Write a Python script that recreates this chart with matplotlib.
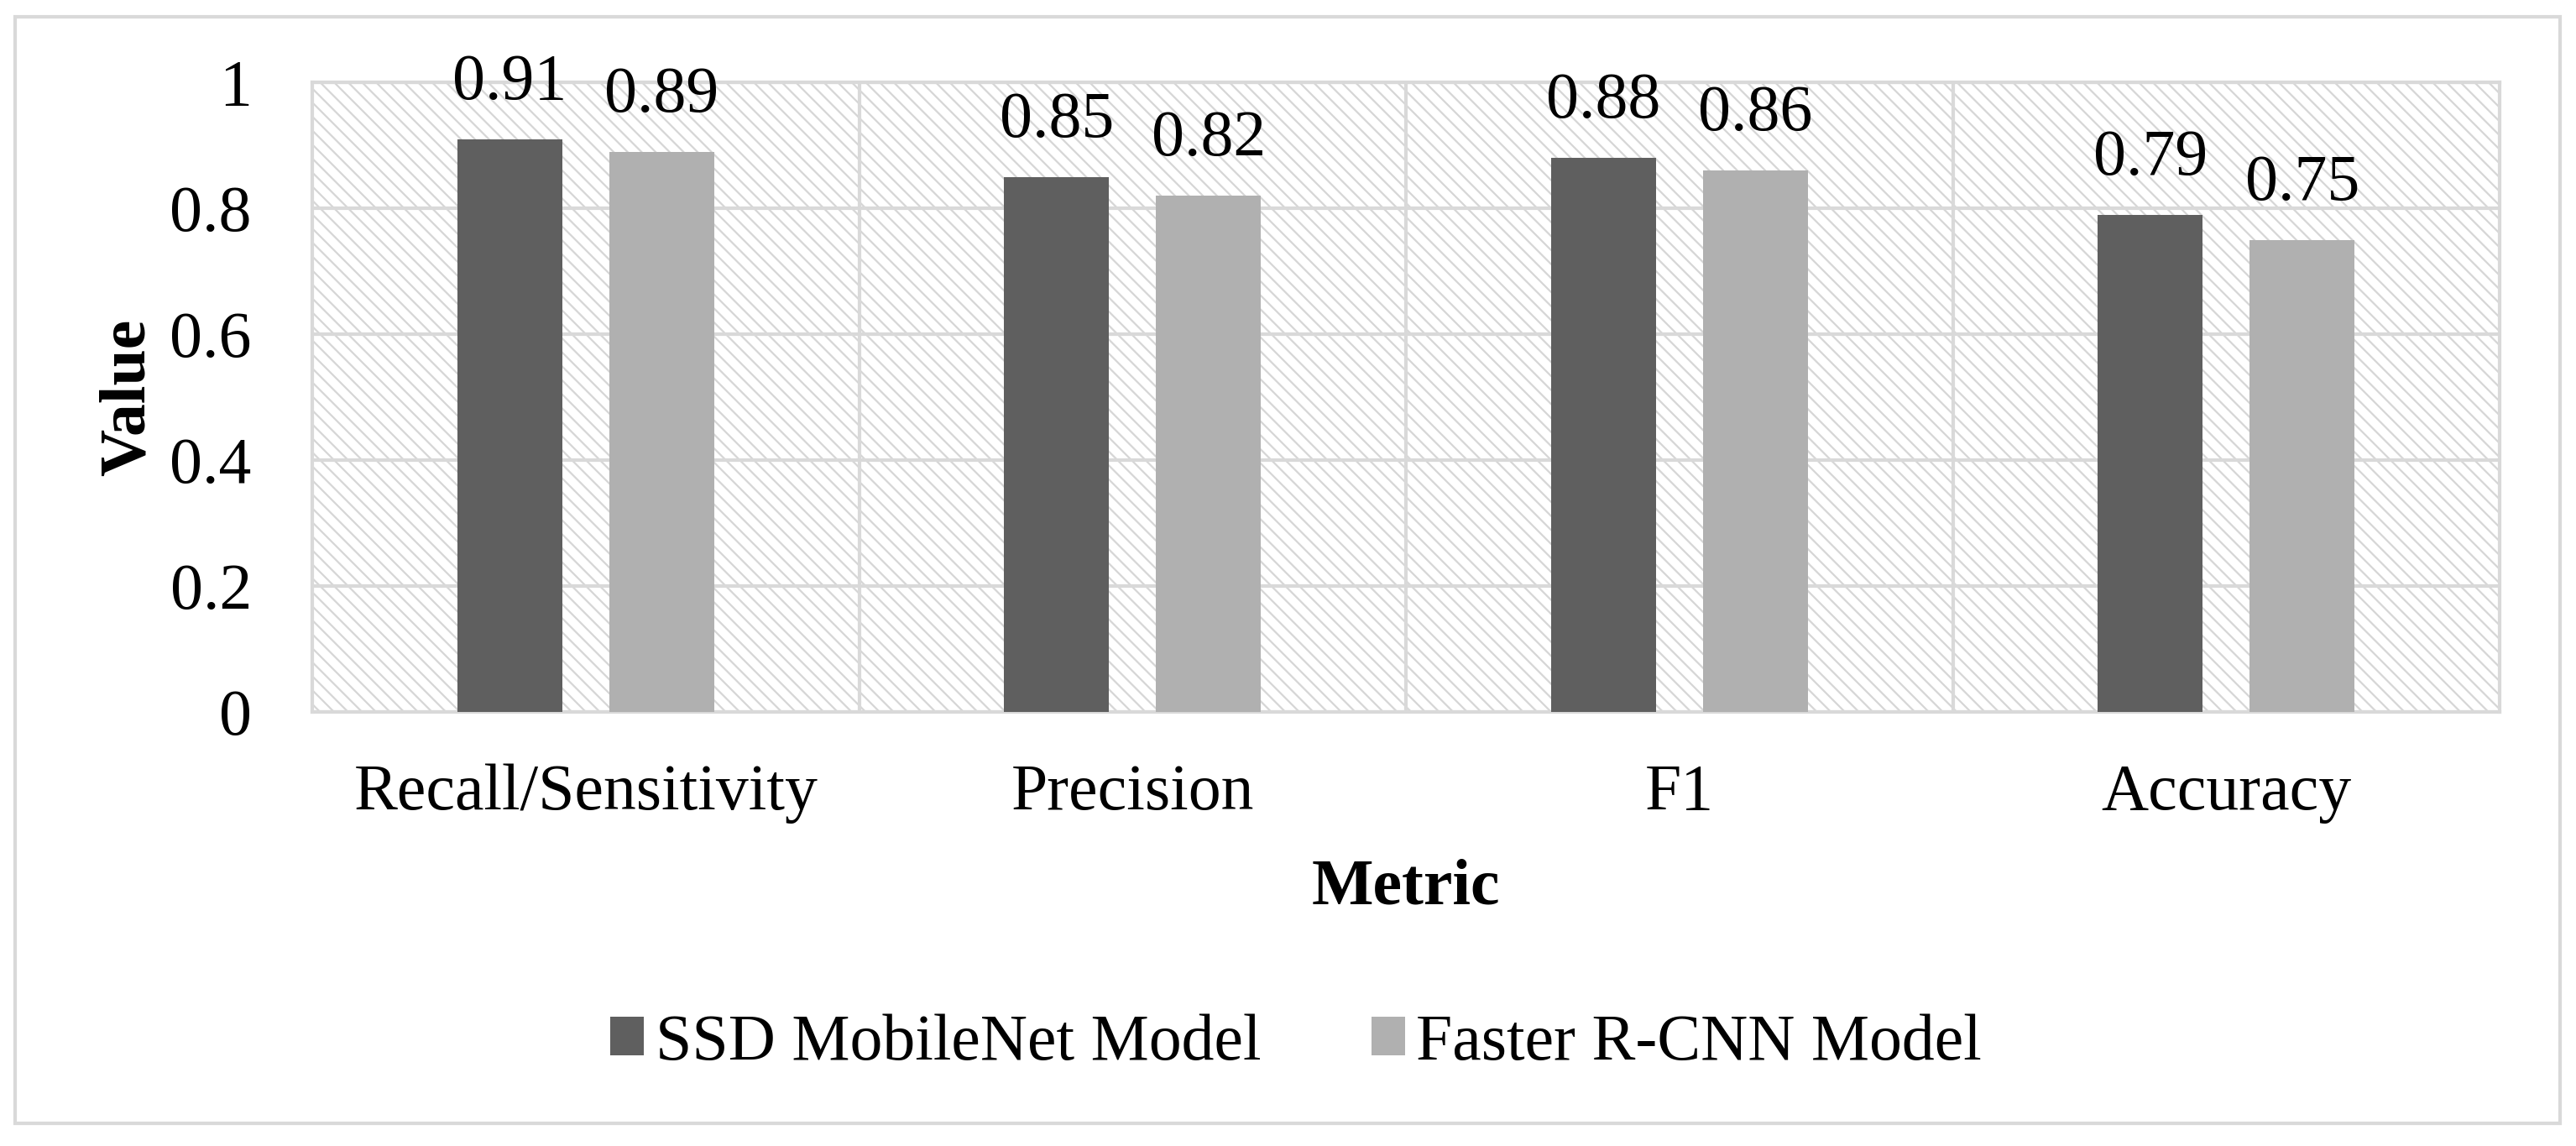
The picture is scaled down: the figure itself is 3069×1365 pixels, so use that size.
import matplotlib
matplotlib.use('Agg')
import matplotlib.pyplot as plt
import numpy as np
from matplotlib.patches import Rectangle

METRICS = ['Recall/Sensitivity', 'Precision', 'F1', 'Accuracy']
SSD_MOBILENET = [0.91, 0.85, 0.88, 0.79]
FASTER_RCNN = [0.89, 0.82, 0.86, 0.75]
SERIES_NAMES = ['SSD MobileNet Model', 'Faster R-CNN Model']
Y_TICKS = [0, 0.2, 0.4, 0.6, 0.8, 1]
Y_TICK_LABELS = ['0', '0.2', '0.4', '0.6', '0.8', '1']

GRID = '#d9d9d9'
DARK = '#5f5f5f'
LIGHT = '#b0b0b0'
FS = 56
W, H = 3069, 1365

plt.rcParams['font.family'] = ['Liberation Serif', 'DejaVu Serif']
plt.rcParams['hatch.color'] = '#d6d6d6'
plt.rcParams['hatch.linewidth'] = 1.6

fig = plt.figure(figsize=(W / 100, H / 100), dpi=100)

# outer chart frame
fig.patches.append(Rectangle((18 / W, 1 - 1338 / H), (3050 - 18) / W,
                             (1338 - 20) / H, transform=fig.transFigure,
                             facecolor='none', edgecolor=GRID, lw=3))

ax = fig.add_axes([372 / W, 1 - 848 / H, (2978 - 372) / W, (848 - 98) / H])

# hatched plot area, like the excel pattern fill
ax.add_patch(Rectangle((0, 0), 1, 1, transform=ax.transAxes,
                       facecolor='white', edgecolor='#d6d6d6', lw=0,
                       hatch='\\\\', zorder=0))

x = np.arange(len(METRICS))
bw = 0.192
off = 0.139
for vals, clr, name, dx in [(SSD_MOBILENET, DARK, SERIES_NAMES[0], -off),
                            (FASTER_RCNN, LIGHT, SERIES_NAMES[1], off)]:
    bars = ax.bar(x + dx, vals, bw, color=clr, label=name, zorder=3)
    for rect, v in zip(bars, vals):
        ax.annotate(f'{v:.2f}', (rect.get_x() + rect.get_width() / 2, v),
                    xytext=(0, 34.5), textcoords='offset points',
                    ha='center', va='baseline', fontsize=FS)

ax.set_xlim(-0.5, len(METRICS) - 0.5)
ax.set_ylim(0, 1)
ax.set_xticks(x, METRICS)
ax.set_xticks(x[:-1] + 0.5, minor=True)
ax.set_yticks(Y_TICKS, Y_TICK_LABELS)
ax.tick_params(axis='both', which='both', length=0, labelsize=FS)
ax.tick_params(axis='x', pad=44)
ax.tick_params(axis='y', pad=52)
ax.grid(axis='y', which='major', color=GRID, lw=3)
ax.grid(axis='x', which='minor', color=GRID, lw=3)
ax.set_axisbelow(True)
for sp in ax.spines.values():
    sp.set_color(GRID)
    sp.set_linewidth(3)

ax.set_xlabel('Metric', fontsize=FS, fontweight='bold', labelpad=30)
ax.set_ylabel('Value', fontsize=FS, fontweight='bold', labelpad=10)

fig.legend(loc='center', bbox_to_anchor=(1544 / W, 1 - 1243 / H), ncol=2,
           frameon=False, fontsize=FS, handlelength=0.52, handleheight=0.54,
           handletextpad=0.17, columnspacing=1.69)

fig.savefig('out.png', dpi=100)
